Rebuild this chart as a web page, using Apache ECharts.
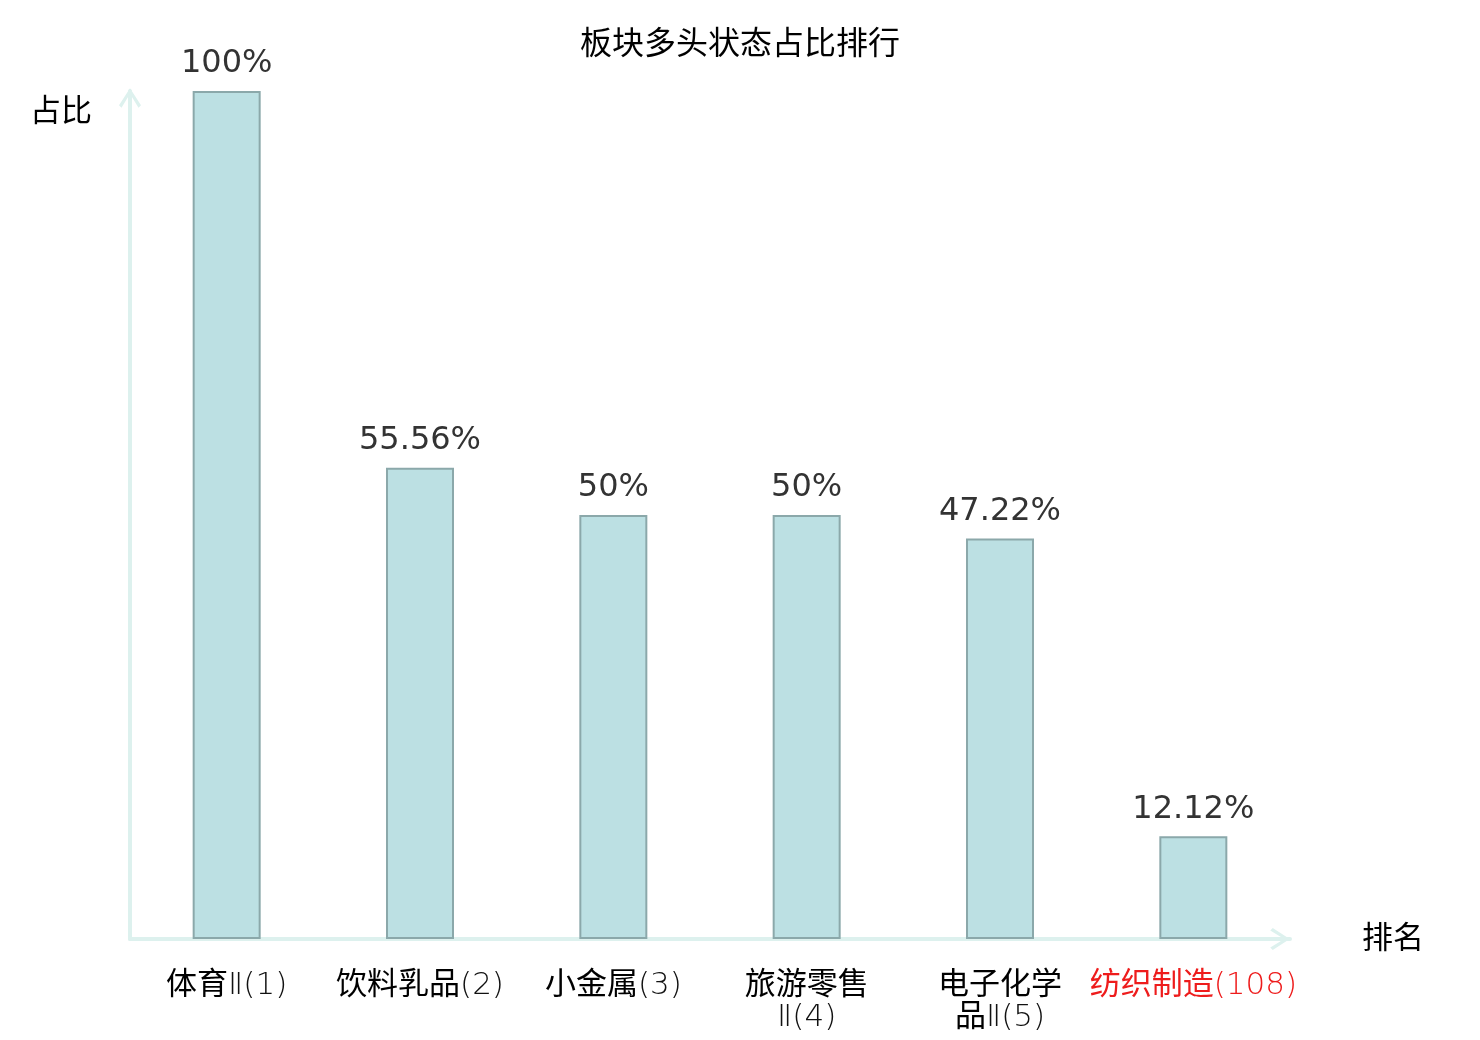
<!DOCTYPE html>
<html><head><meta charset="utf-8">
<script src="https://cdn.jsdelivr.net/npm/echarts@6/dist/echarts.min.js"></script>
<style>html,body{margin:0;padding:0;background:#fff}#c{width:1480px;height:1040px}</style>
</head><body><div id="c"></div>
<script>
const names = ['体育Ⅱ', '饮料乳品', '小金属', '旅游零售Ⅱ', '电子化学品Ⅱ', '纺织制造'];
const ranks = [1, 2, 3, 4, 5, 108];
const values = [100, 55.56, 50, 50, 47.22, 12.12];
const highlighted = [false, false, false, false, false, true];

const categories = names.map((n, i) => {
  const label = (n.length > 4 ? n.slice(0, 4) + '\n' + n.slice(4) : n) + '(' + ranks[i] + ')';
  return highlighted[i] ? { value: label, textStyle: { color: '#ee1c1c' } } : label;
});

// split label into CJK (regular) and Latin (thin) runs, keeping line breaks
function richLabel(s, idx) {
  const suffix = highlighted[idx] ? 'R' : '';
  return s.split('\n').map(line => {
    const runs = line.match(/[\u4e00-\u9fff]+|[^\u4e00-\u9fff]+/g) || [];
    return runs.map(r => '{' + (/[\u4e00-\u9fff]/.test(r) ? 'c' : 't') + suffix + '|' + r + '}').join('');
  }).join('\n');
}

const chevron = 'path://M11,0 L22,17 L19.5,19.5 L11,5.5 L2.5,19.5 L0,17 Z';
const cjk = "'DejaVu Sans', 'Noto Sans CJK SC', sans-serif";
const base = { fontSize: 31, lineHeight: 32, fontFamily: cjk };
const chart = echarts.init(document.getElementById('c'));
chart.setOption({
  animation: false,
  title: {
    text: '板块多头状态占比排行', left: 'center', top: 25,
    textStyle: { fontSize: 32, fontWeight: 'normal', color: '#000', fontFamily: cjk }
  },
  grid: { left: 130, right: 190, top: 91, bottom: 101 },
  xAxis: {
    type: 'category', data: categories,
    name: '排名', nameLocation: 'end', nameGap: 72,
    nameTextStyle: { fontSize: 31, color: '#000', fontFamily: cjk, verticalAlign: 'top', lineHeight: 2 },
    axisLine: { lineStyle: { color: '#ddf1ee', width: 4 }, symbol: ['none', chevron], symbolSize: [22, 20], symbolOffset: [0, -10] },
    axisTick: { show: false },
    axisLabel: {
      fontSize: 31, color: '#000', lineHeight: 32, margin: 31, interval: 0, fontFamily: cjk,
      formatter: (v, i) => richLabel(v, i),
      rich: {
        c: Object.assign({ color: '#000', fontWeight: 'normal' }, base),
        t: Object.assign({ color: '#111', fontWeight: 200 }, base),
        cR: Object.assign({ color: '#ee1c1c', fontWeight: 'normal' }, base),
        tR: Object.assign({ color: '#ee1c1c', fontWeight: 200 }, base)
      }
    }
  },
  yAxis: {
    type: 'value', min: 0, max: 100,
    name: '占比', nameLocation: 'end', nameGap: -22,
    nameTextStyle: { fontSize: 31, color: '#000', fontFamily: cjk, align: 'right', verticalAlign: 'middle', padding: [0, 38, 0, 0] },
    axisLine: { show: true, lineStyle: { color: '#ddf1ee', width: 4 }, symbol: ['none', chevron], symbolSize: [22, 20], symbolOffset: [0, -7] },
    axisTick: { show: false }, axisLabel: { show: false }, splitLine: { show: false }
  },
  series: [{
    type: 'bar', data: values, barWidth: 68,
    itemStyle: { color: '#bce0e3', borderColor: '#8ba8aa', borderWidth: 2 },
    label: { show: true, position: 'top', distance: 11, fontSize: 32, color: '#333', fontFamily: 'DejaVu Sans', formatter: p => p.value + '%' }
  }]
});
</script></body></html>
